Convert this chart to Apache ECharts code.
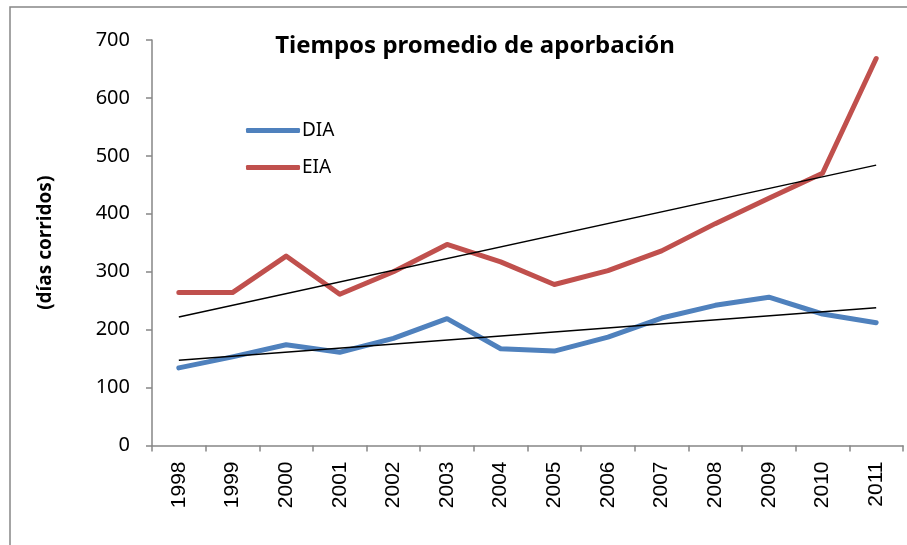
<!DOCTYPE html>
<html>
<head>
<meta charset="utf-8">
<script src="https://cdn.jsdelivr.net/npm/echarts@6/dist/echarts.min.js"></script>
<style>
  html, body { margin: 0; padding: 0; background: #fff; }
  #main { width: 907px; height: 545px; }
</style>
</head>
<body>
<div id="main"></div>
<script>
const years = ['1998', '1999', '2000', '2001', '2002', '2003', '2004', '2005', '2006', '2007', '2008', '2009', '2010', '2011']
const dia = [134, 153, 174, 161, 185, 219, 167, 163, 187, 220, 242, 256, 227, 212]
const eia = [264, 264, 327, 261, 300, 347, 317, 278, 302, 336, 383, 427, 470, 668]
// tendencias lineales (extremos)
const diaTrend = [147, 238]
const eiaTrend = [222, 484]

const chart = echarts.init(document.getElementById('main'))

const option = {
  animation: false,
  backgroundColor: '#fff',
  title: {
    text: 'Tiempos promedio de aporbación',
    left: 470,
    textAlign: 'center',
    top: 29,
    textStyle: { fontFamily: 'Noto Sans', fontWeight: 'bold', fontSize: 24, color: '#000' }
  },
  legend: {
    data: ['DIA', 'EIA'],
    orient: 'vertical',
    left: 241,
    top: 116,
    itemWidth: 54,
    itemHeight: 5,
    itemGap: 18,
    icon: 'roundRect',
    textStyle: { fontFamily: 'Noto Sans', fontSize: 19, color: '#000', padding: [0, 0, 0, -3] }
  },
  grid: { left: 152, top: 40, right: 4, bottom: 99.5 },
  xAxis: {
    type: 'category',
    data: years,
    boundaryGap: true,
    axisLine: { lineStyle: { color: '#868686', width: 1.5 } },
    axisTick: { show: true, length: 6, lineStyle: { color: '#868686', width: 1.5 } },
    axisLabel: { rotate: 90, margin: 16, fontFamily: 'Liberation Sans', fontSize: 21, color: '#000' },
    splitLine: { show: false }
  },
  yAxis: {
    type: 'value',
    min: 0,
    max: 700,
    interval: 100,
    name: '(días corridos)',
    nameLocation: 'middle',
    nameGap: 97,
    nameTextStyle: { fontFamily: 'Noto Sans', fontWeight: 'bold', fontSize: 19, color: '#000' },
    axisLine: { show: true, lineStyle: { color: '#868686', width: 1.5 } },
    axisTick: { show: true, length: 6, lineStyle: { color: '#868686', width: 1.5 } },
    axisLabel: { margin: 22, fontFamily: 'Noto Sans', fontSize: 20, color: '#000' },
    splitLine: { show: false }
  },
  graphic: [{
    type: 'rect',
    shape: { x: 10, y: 7, width: 950, height: 600 },
    style: { fill: 'none', stroke: '#868686', lineWidth: 1.5 },
    silent: true,
    z: -1
  }],
  series: [
    {
      name: 'DIA',
      type: 'line',
      data: dia,
      symbol: 'none',
      lineStyle: { color: '#4F81BD', width: 5, cap: 'round', join: 'round' },
      itemStyle: { color: '#4F81BD' },
      z: 2
    },
    {
      name: 'EIA',
      type: 'line',
      data: eia,
      symbol: 'none',
      lineStyle: { color: '#C0504D', width: 5, cap: 'round', join: 'round' },
      itemStyle: { color: '#C0504D' },
      z: 2
    },
    {
      name: 'Tendencia DIA',
      type: 'line',
      data: [[0, diaTrend[0]], [years.length - 1, diaTrend[1]]],
      symbol: 'none',
      lineStyle: { color: '#000', width: 1.5 },
      z: 3
    },
    {
      name: 'Tendencia EIA',
      type: 'line',
      data: [[0, eiaTrend[0]], [years.length - 1, eiaTrend[1]]],
      symbol: 'none',
      lineStyle: { color: '#000', width: 1.5 },
      z: 3
    }
  ]
}

chart.setOption(option)
</script>
</body>
</html>
